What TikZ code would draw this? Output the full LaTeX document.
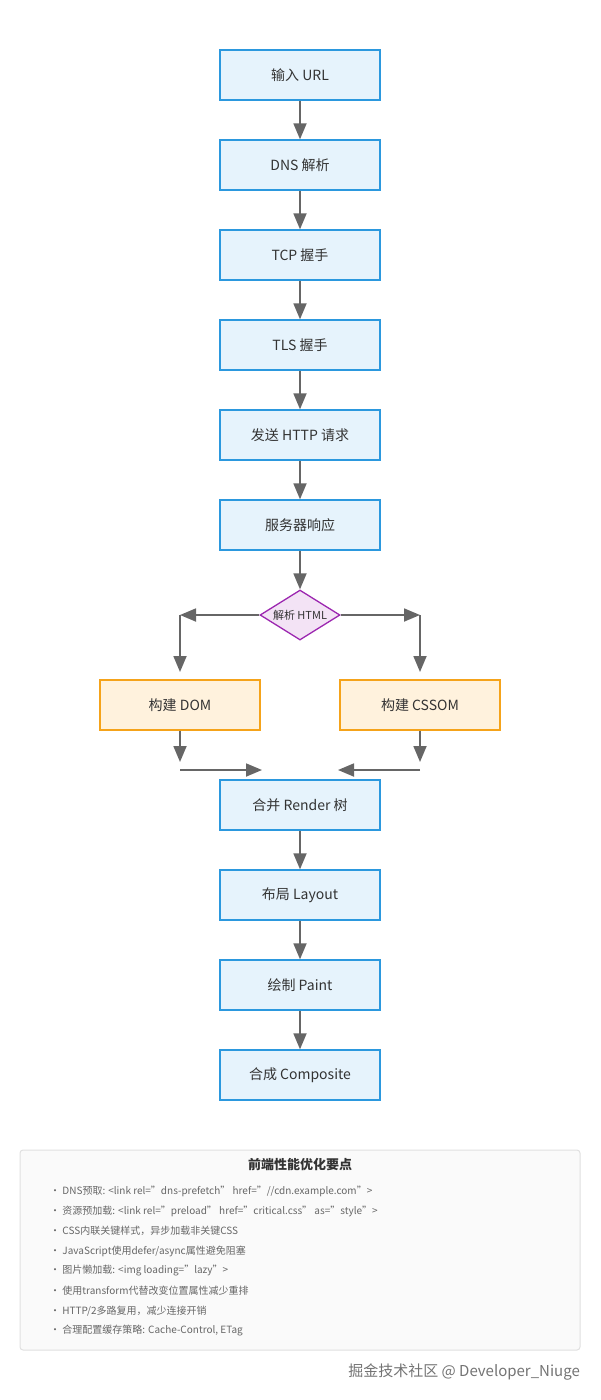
\documentclass[tikz,border=0pt]{standalone}
\usepackage{fontspec}
\setmainfont{Noto Sans CJK SC}
\usetikzlibrary{shapes.geometric,arrows.meta}
\definecolor{bfill}{HTML}{E6F3FC}
\definecolor{bline}{HTML}{2B98DE}
\definecolor{ofill}{HTML}{FFF2DD}
\definecolor{oline}{HTML}{F5A31A}
\definecolor{pfill}{HTML}{F3E3F5}
\definecolor{pline}{HTML}{9C27B0}
\definecolor{arr}{HTML}{666666}
\definecolor{txt}{HTML}{333333}
\begin{document}
\begin{tikzpicture}[x=1pt,y=-1pt,
 box/.style={draw=bline,fill=bfill,line width=1.3pt,minimum width=160pt,minimum height=50pt,inner sep=0pt,font=\fontsize{14}{16}\selectfont,text=txt},
 obox/.style={box,draw=oline,fill=ofill},
 dia/.style={diamond,draw=pline,fill=pfill,line width=1.3pt,minimum width=80pt,minimum height=50pt,inner sep=0pt,aspect=1.6,font=\fontsize{11}{12}\selectfont,text=txt},
 ar/.style={draw=arr,line width=1.8pt,-{Triangle[length=16pt,width=13pt]}},
 ln/.style={draw=arr,line width=1.8pt},
 item/.style={anchor=west,font=\fontsize{10}{12}\selectfont,text=black!60,inner sep=0pt}]
\useasboundingbox (0,0) rectangle (600,1400);
\node[box] (n1) at (300,75) {输入 URL};
\node[box] (n2) at (300,165) {DNS 解析};
\node[box] (n3) at (300,255) {TCP 握手};
\node[box] (n4) at (300,345) {TLS 握手};
\node[box] (n5) at (300,435) {发送 HTTP 请求};
\node[box] (n6) at (300,525) {服务器响应};
\node[dia,minimum width=80pt,minimum height=50pt,shape aspect=1.6] (d) at (300,615) {解析 HTML};
\node[obox] (dom) at (180,705) {构建 DOM};
\node[obox] (css) at (420,705) {构建 CSSOM};
\node[box] (r) at (300,805) {合并 Render 树};
\node[box] (l) at (300,895) {布局 Layout};
\node[box] (p) at (300,985) {绘制 Paint};
\node[box] (c) at (300,1075) {合成 Composite};
\foreach \a/\b in {n1/n2,n2/n3,n3/n4,n4/n5,n5/n6,r/l,l/p,p/c}
  \draw[ar] (\a.south) -- (\b.north);
\draw[ar] (n6.south) -- (d.north);
\coordinate (dl) at (180,615);
\coordinate (dr) at (420,615);
\coordinate (dlb) at (180,672);
\coordinate (drb) at (420,672);
\draw[ar] (d.west) -- (dl);
\draw[ar] (dl) -- (dlb);
\draw[ar] (d.east) -- (dr);
\draw[ar] (dr) -- (drb);
\coordinate (ml) at (180,762);
\coordinate (mr) at (420,762);
\coordinate (hl) at (180,770);
\coordinate (hr) at (420,770);
\coordinate (tl) at (262,770);
\coordinate (tr) at (338,770);
\draw[ar] (dom.south) -- (ml);
\draw[ar] (css.south) -- (mr);
\draw[ar] (hl) -- (tl);
\draw[ar] (hr) -- (tr);
\node[draw=black!12,fill=black!2,rounded corners=3pt,line width=1pt,minimum width=560pt,minimum height=200pt,inner sep=0pt] (note) at (300,1250) {};
\node[font=\bfseries\fontsize{13}{15}\selectfont,text=txt] (title) at (300,1165) {前端性能优化要点};
\node[item] (i1) at (50,1191) {• DNS预取: <link rel="dns-prefetch" href="//cdn.example.com">};
\node[item] (i2) at (50,1211) {• 资源预加载: <link rel="preload" href="critical.css" as="style">};
\node[item] (i3) at (50,1231) {• CSS内联关键样式，异步加载非关键CSS};
\node[item] (i4) at (50,1251) {• JavaScript使用defer/async属性避免阻塞};
\node[item] (i5) at (50,1271) {• 图片懒加载: <img loading="lazy">};
\node[item] (i6) at (50,1291) {• 使用transform代替改变位置属性减少重排};
\node[item] (i7) at (50,1311) {• HTTP/2多路复用，减少连接开销};
\node[item] (i8) at (50,1331) {• 合理配置缓存策略: Cache-Control, ETag};
\node[anchor=east,font=\fontsize{15}{17}\selectfont,text=black!55,inner sep=0pt] (wm) at (580,1372) {掘金技术社区 @ Developer\_Niuge};
\end{tikzpicture}
\end{document}
